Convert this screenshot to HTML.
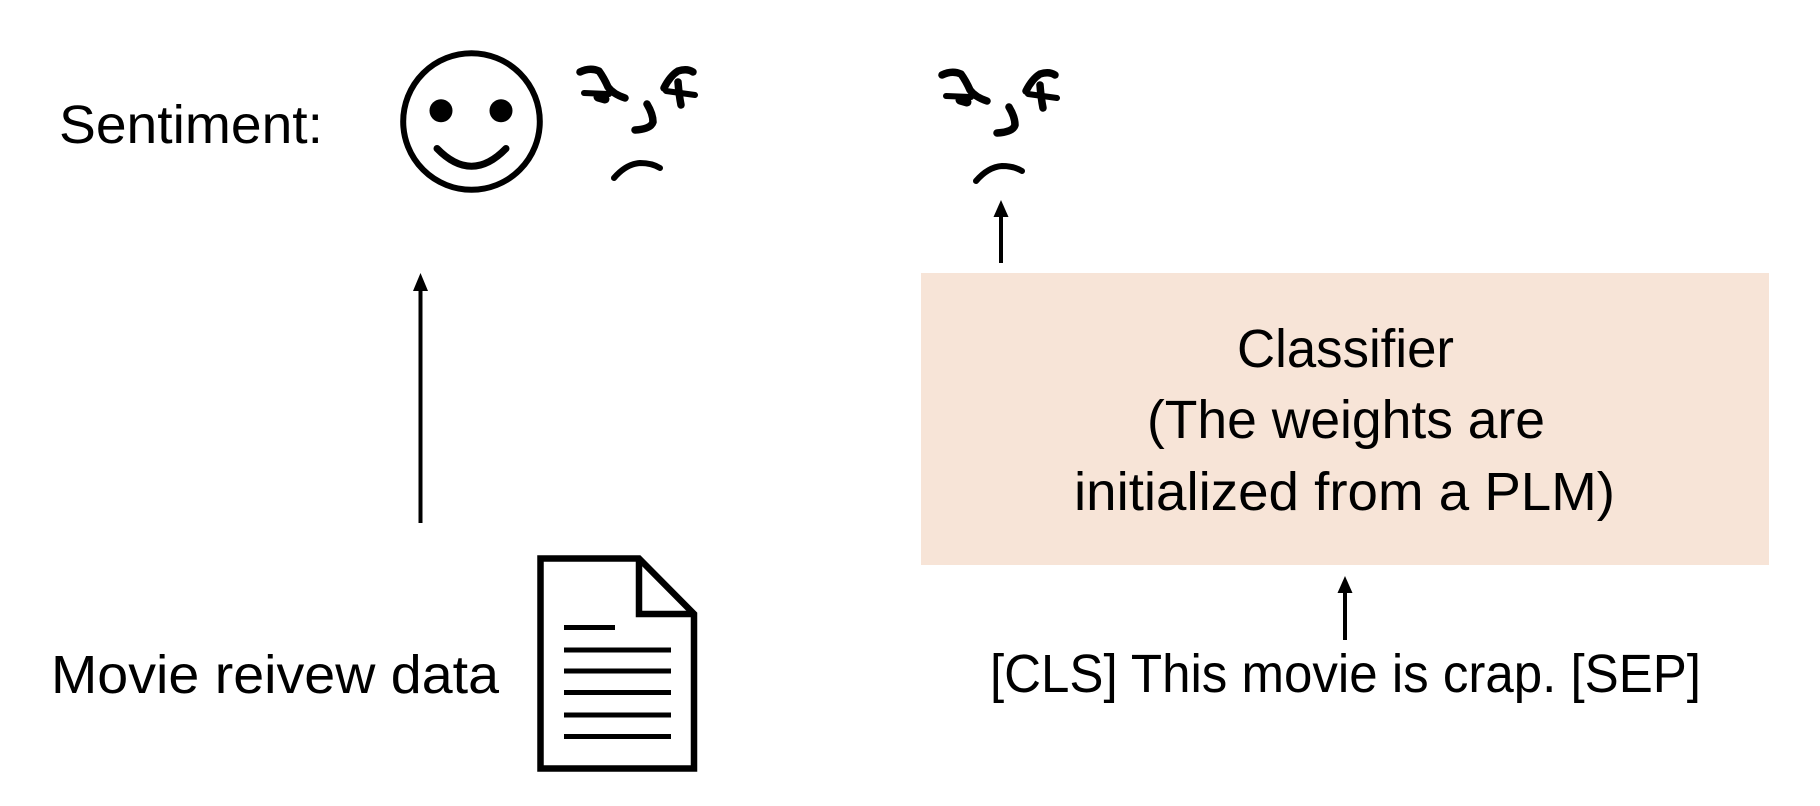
<!DOCTYPE html>
<html>
<head>
<meta charset="utf-8">
<style>
html,body{margin:0;padding:0;background:#fff;}
svg{display:block;}
text{font-family:"Liberation Sans",Arial,sans-serif;font-size:54px;fill:#000;}
</style>
</head>
<body>
<svg width="1820" height="806" viewBox="0 0 1820 806" xmlns="http://www.w3.org/2000/svg">
  <rect width="1820" height="806" fill="#fff"/>

  <!-- Sentiment label -->
  <text x="59" y="143" textLength="264" lengthAdjust="spacingAndGlyphs">Sentiment:</text>

  <!-- Smiley -->
  <circle cx="471.5" cy="121.5" r="68.3" fill="none" stroke="#000" stroke-width="6"/>
  <circle cx="441" cy="110.7" r="11.5" fill="#000"/>
  <circle cx="501" cy="110.7" r="11.5" fill="#000"/>
  <path d="M437,148.5 Q471.5,184 506,148.5" fill="none" stroke="#000" stroke-width="7" stroke-linecap="round"/>

  <!-- Confused face 1 -->
  <g fill="none" stroke="#000" stroke-width="7.5" stroke-linecap="round" stroke-linejoin="round">
    <path d="M580,72 Q590,67 599,71 Q604,78 608,87 Q613,94 625,98"/>
    <path d="M584,93 L609,94" stroke-width="6"/>
    <path d="M598,97 L605,99" stroke-width="9"/>
    <path d="M664,88 Q670,76 678,71 Q687,68 693,72"/>
    <path d="M678,82 Q679,95 681,105"/>
    <path d="M666,91 L695,95" stroke-width="6"/>
    <path d="M647,104 Q653,114 653,122 Q651,129 635,130"/>
    <path d="M614,178 Q626,164 640,163 Q652,163 660,168" stroke-width="6"/>
  </g>

  <!-- Confused face 2 -->
  <g transform="translate(362,3)" fill="none" stroke="#000" stroke-width="7.5" stroke-linecap="round" stroke-linejoin="round">
    <path d="M580,72 Q590,67 599,71 Q604,78 608,87 Q613,94 625,98"/>
    <path d="M584,93 L609,94" stroke-width="6"/>
    <path d="M598,97 L605,99" stroke-width="9"/>
    <path d="M664,88 Q670,76 678,71 Q687,68 693,72"/>
    <path d="M678,82 Q679,95 681,105"/>
    <path d="M666,91 L695,95" stroke-width="6"/>
    <path d="M647,104 Q653,114 653,122 Q651,129 635,130"/>
    <path d="M614,178 Q626,164 640,163 Q652,163 660,168" stroke-width="6"/>
  </g>

  <!-- Left arrow -->
  <line x1="420.5" y1="523" x2="420.5" y2="288" stroke="#000" stroke-width="4"/>
  <polygon points="420.5,273 413,291 428,291" fill="#000"/>

  <!-- Top right arrow -->
  <line x1="1001" y1="263" x2="1001" y2="214" stroke="#000" stroke-width="4"/>
  <polygon points="1001,200 993.5,217 1008.5,217" fill="#000"/>

  <!-- Classifier box -->
  <rect x="921" y="273" width="848" height="292" fill="#F7E4D7"/>
  <text x="1237" y="367" textLength="217" lengthAdjust="spacingAndGlyphs">Classifier</text>
  <text x="1147" y="438" textLength="398" lengthAdjust="spacingAndGlyphs">(The weights are</text>
  <text x="1074" y="510" textLength="541" lengthAdjust="spacingAndGlyphs">initialized from a PLM)</text>

  <!-- Bottom arrow -->
  <line x1="1345" y1="640" x2="1345" y2="590" stroke="#000" stroke-width="4"/>
  <polygon points="1345,576 1337.5,593 1352.5,593" fill="#000"/>

  <text x="990" y="692" textLength="711" lengthAdjust="spacingAndGlyphs">[CLS] This movie is crap. [SEP]</text>

  <!-- Movie review data -->
  <text x="51" y="693" textLength="448" lengthAdjust="spacingAndGlyphs">Movie reivew data</text>

  <!-- Document icon -->
  <g fill="none" stroke="#000" stroke-width="6.5" stroke-linejoin="miter">
    <path d="M540.5,558.5 H639 L694,614 V768.5 H540.5 Z" fill="#fff"/>
    <path d="M639,558.5 V614 H694"/>
  </g>
  <g stroke="#000" stroke-width="5">
    <line x1="564" y1="627.5" x2="615" y2="627.5"/>
    <line x1="564" y1="650" x2="671" y2="650"/>
    <line x1="564" y1="671" x2="671" y2="671"/>
    <line x1="564" y1="692.5" x2="671" y2="692.5"/>
    <line x1="564" y1="715" x2="671" y2="715"/>
    <line x1="564" y1="736.5" x2="671" y2="736.5"/>
  </g>
</svg>
</body>
</html>
